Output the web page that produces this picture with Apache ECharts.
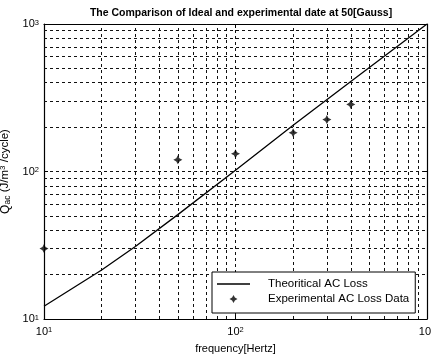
<!DOCTYPE html>
<html>
<head>
<meta charset="utf-8">
<script src="https://cdn.jsdelivr.net/npm/echarts@6/dist/echarts.min.js"></script>
<style>
  html, body { margin: 0; padding: 0; background: #fff; }
  #chart { width: 431px; height: 360px; }
</style>
</head>
<body>
<div id="chart"></div>
<script>
// ----------------------
// DATA
// ----------------------
const freqTheory = [10, 20, 30, 50, 100, 200, 400, 1000];
const lossTheory = [12.2, 21.5, 31, 51, 102, 206, 408, 1000];

const freqExp = [10, 50, 100, 200, 300, 400];
const lossExp = [30, 120, 132, 183, 225, 285];

const minorTicks = [20, 30, 40, 50, 60, 70, 80, 90, 200, 300, 400, 500, 600, 700, 800, 900];
const majorTicks = [10, 100, 1000];
const tickExponents = ["1", "2", "3"];

// ----------------------
// STYLE
// ----------------------
const FONT = "Liberation Sans, Arial, sans-serif";
const gridDash = { color: "#111", width: 1, type: [3, 3] };

function powerLabel(v) {
  const i = majorTicks.findIndex((t) => Math.abs(t - v) / t < 1e-6);
  if (i < 0) return "";
  return "{b|10}{s|" + tickExponents[i] + "}";
}

const powerRich = {
  b: { fontFamily: FONT, fontSize: 11, color: "#000", lineHeight: 11 },
  s: { fontFamily: FONT, fontSize: 7.5, color: "#000", lineHeight: 8, verticalAlign: "top", padding: [0, 0, 5, 0] },
};

const minorLines = [];
minorTicks.forEach((t) => {
  minorLines.push({ xAxis: t });
  minorLines.push({ yAxis: t });
});

function boxAxis(extra) {
  return Object.assign(
    {
      type: "log",
      logBase: 10,
      min: 10,
      max: 1000,
      axisLine: { show: true, lineStyle: { color: "#000", width: 1.2 } },
      axisTick: { show: true, inside: true, length: 4, lineStyle: { color: "#000" } },
      axisLabel: { show: false },
      splitLine: { show: false },
    },
    extra
  );
}

// ----------------------
// CHART
// ----------------------
const chart = echarts.init(document.getElementById("chart"));

chart.setOption({
  animation: false,
  backgroundColor: "#fff",
  title: {
    text: "The Comparison of Ideal and experimental date at 50[Gauss]",
    left: 236,
    top: 3,
    textAlign: "center",
    textStyle: { fontFamily: FONT, fontSize: 10.5, fontWeight: "bold", color: "#000" },
  },
  grid: { left: 44, right: 4, top: 24, bottom: 41, containLabel: false, outerBoundsMode: "none" },
  legend: {
    z: 10,
    orient: "vertical",
    left: 212,
    top: 272,
    padding: [6, 6, 8, 5],
    itemWidth: 33,
    itemHeight: 8,
    itemGap: 3,
    backgroundColor: "#fff",
    borderColor: "#000",
    borderWidth: 1,
    borderRadius: 0,
    textStyle: { fontFamily: FONT, fontSize: 11.5, color: "#000", padding: [0, 0, 0, 13] },
    data: [
      { name: "Theoritical AC Loss", icon: "path://M0,0 L33,0 L33,1.4 L0,1.4 Z" },
      { name: "Experimental AC Loss Data" },
    ],
  },
  xAxis: [
    boxAxis({
      position: "bottom",
      name: "frequency[Hertz]",
      nameLocation: "middle",
      nameGap: 24,
      nameTextStyle: { fontFamily: FONT, fontSize: 11, color: "#000" },
      axisLabel: { show: true, margin: 7, formatter: powerLabel, rich: powerRich },
      splitLine: { show: true, lineStyle: gridDash },
    }),
    boxAxis({ position: "top" }),
  ],
  yAxis: [
    boxAxis({
      position: "left",
      name: "{q|Q}{sub|ac} {n|(J/m}{sup|3}{n| /cycle)}",
      nameLocation: "middle",
      nameRotate: 90,
      nameGap: 25,
      nameTextStyle: {
        rich: {
          q: { fontFamily: FONT, fontSize: 12, color: "#000", lineHeight: 13 },
          n: { fontFamily: FONT, fontSize: 11.5, color: "#000", lineHeight: 13 },
          sub: { fontFamily: FONT, fontSize: 8.5, color: "#000", verticalAlign: "bottom", lineHeight: 8 },
          sup: { fontFamily: FONT, fontSize: 8, color: "#000", verticalAlign: "top", lineHeight: 8 },
        },
      },
      axisLabel: { show: true, margin: 5, formatter: powerLabel, rich: powerRich },
      splitLine: { show: true, lineStyle: gridDash },
    }),
    boxAxis({ position: "right" }),
  ],
  series: [
    {
      name: "Theoritical AC Loss",
      type: "line",
      symbol: "none",
      data: freqTheory.map((f, i) => [f, lossTheory[i]]),
      lineStyle: { color: "#000", width: 1.3 },
      itemStyle: { color: "#000" },
      markLine: {
        silent: true,
        symbol: "none",
        label: { show: false },
        lineStyle: gridDash,
        data: minorLines,
      },
      z: 3,
    },
    {
      name: "Experimental AC Loss Data",
      type: "scatter",
      clip: false,
      symbol: "path://M0,-10 L3.5,-3.5 L10,0 L3.5,3.5 L0,10 L-3.5,3.5 L-10,0 L-3.5,-3.5 Z",
      symbolSize: 9,
      data: freqExp.map((f, i) => [f, lossExp[i]]),
      itemStyle: { color: "#000" },
      z: 4,
    },
  ],
});
</script>
</body>
</html>
